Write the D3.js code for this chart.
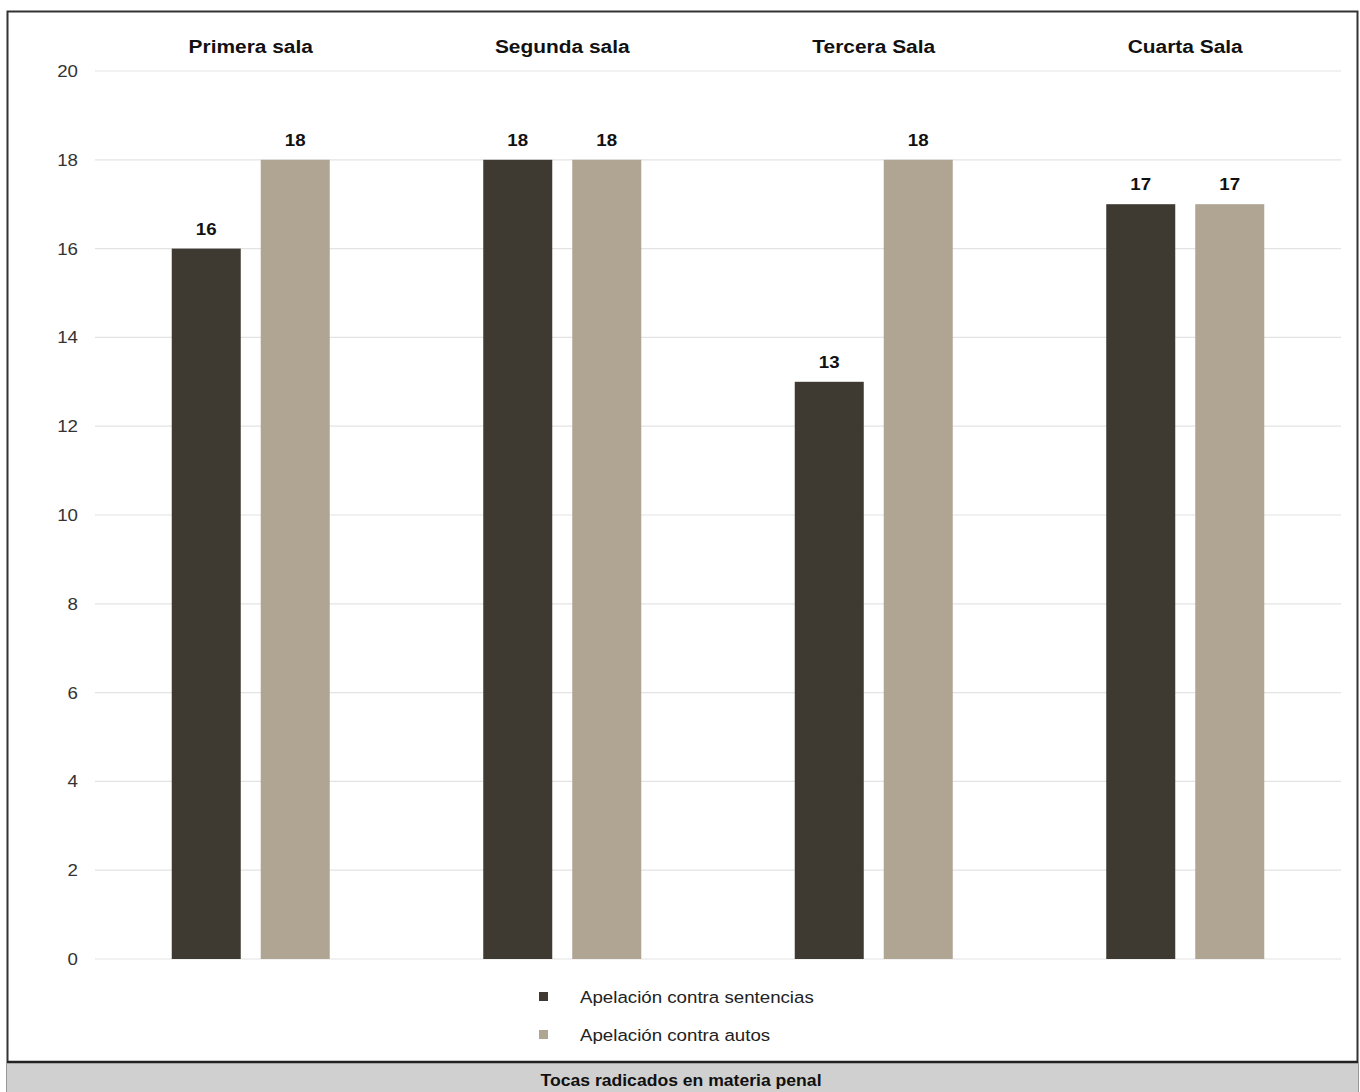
<!DOCTYPE html>
<html><head><meta charset="utf-8">
<script src="https://cdn.jsdelivr.net/npm/d3@7"></script>
<style>body{margin:0;background:#fff}svg{display:block}</style>
</head><body>
<svg id="c" width="1360" height="1092"></svg>
<script>
const categories = ["Primera sala", "Segunda sala", "Tercera Sala", "Cuarta Sala"];
const seriesNames = ["Apelación contra sentencias", "Apelación contra autos"];
const sentencias = [16, 18, 13, 17];
const autos = [18, 18, 18, 17];
const yTicks = [0, 2, 4, 6, 8, 10, 12, 14, 16, 18, 20];
const title = "Tocas radicados en materia penal";
const colors = ["#3e3a31", "#b0a492"];

(function () {
const svg = d3.select("#c");
const font = "Liberation Sans, Arial, sans-serif";
const SX = 1.1;
// text with slight horizontal stretch, anchored at (x,y)
function txt(parent, x, y, s, size, opts) {
  opts = opts || {};
  return parent.append("text")
    .attr("transform", `translate(${x},${y}) scale(${SX},1)`)
    .attr("text-anchor", opts.anchor || "middle")
    .attr("font-family", font).attr("font-size", size)
    .attr("font-weight", opts.bold ? "bold" : "normal")
    .attr("fill", opts.fill || "#111").text(s);
}

// outer border
svg.append("rect").attr("x", 7.5).attr("y", 11.5).attr("width", 1350).attr("height", 1085)
  .attr("fill", "none").attr("stroke", "#333").attr("stroke-width", 2);

// bottom title bar
svg.append("rect").attr("x", 7).attr("y", 1062).attr("width", 1351).attr("height", 32).attr("fill", "#d0d0d0");
svg.append("line").attr("x1", 7).attr("x2", 1358).attr("y1", 1062).attr("y2", 1062).attr("stroke", "#222").attr("stroke-width", 2.5);
txt(svg, 681, 1086, title, 16, {bold: true});

const pLeft = 95, pRight = 1341, pTop = 71, pBottom = 959;
const y = d3.scaleLinear().domain([0, 20]).range([pBottom, pTop]);
const x0 = d3.scaleBand().domain(categories).range([pLeft, pRight]).paddingInner(0).paddingOuter(0);
const inner = 89; // span between bar starts
const bw = 69;

// gridlines
svg.append("g").selectAll("line").data(yTicks).join("line")
  .attr("x1", pLeft).attr("x2", pRight).attr("y1", d => y(d)).attr("y2", d => y(d))
  .attr("stroke", "#e3e3e3").attr("stroke-width", 1.2);

// y axis labels
const yAxis = d3.axisLeft(y).tickValues(yTicks).tickSize(0).tickPadding(17);
const ga = svg.append("g").attr("transform", `translate(${pLeft},0)`).call(yAxis);
ga.select(".domain").remove();
ga.selectAll(".tick text").attr("font-family", font).attr("font-size", 17).attr("fill", "#333")
  .attr("transform", `scale(${SX},1)`).attr("x", -17 / SX);

// category labels on top
const gc = svg.append("g");
categories.forEach(c => txt(gc, x0(c) + x0.bandwidth() / 2, 53, c, 19, {bold: true}));

const series = [sentencias, autos];
series.forEach((vals, si) => {
  const g = svg.append("g");
  const bx = (c) => x0(c) + x0.bandwidth() / 2 - (inner + bw) / 2 + si * inner;
  g.selectAll("rect").data(categories).join("rect")
    .attr("x", (c) => bx(c)).attr("width", bw)
    .attr("y", (c, i) => y(vals[i])).attr("height", (c, i) => y(0) - y(vals[i]))
    .attr("fill", colors[si]);
  categories.forEach((c, i) => txt(g, bx(c) + bw / 2, y(vals[i]) - 14, vals[i], 17, {bold: true}));
});

// legend
const lg = svg.append("g");
seriesNames.forEach((n, i) => {
  const ly = 997 + i * 38;
  lg.append("rect").attr("x", 539).attr("y", ly - 5).attr("width", 9).attr("height", 9).attr("fill", colors[i]);
  txt(lg, 580, ly + 6, n, 17, {anchor: "start", fill: "#222"});
});
})();
</script>
</body></html>
